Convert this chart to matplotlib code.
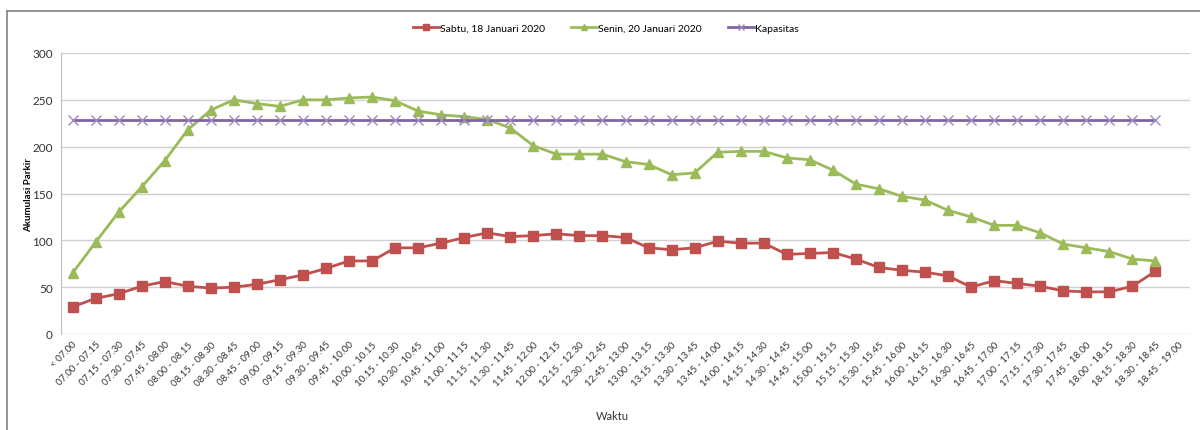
import numpy as np
import matplotlib.pyplot as plt
from matplotlib.lines import Line2D

# kategori waktu
waktu = ["< 07.00"]
for h in range(7, 19):
    for m in (0, 15, 30, 45):
        m2 = m + 15
        h2 = h + m2 // 60
        waktu.append("%02d.%02d - %02d.%02d" % (h, m, h2, m2 % 60))

sabtu = [29, 38, 43, 51, 56, 51, 49, 50, 53, 58, 63, 70, 78, 78, 92, 92,
         97, 103, 108, 104, 105, 107, 105, 105, 103, 92, 90, 92, 99, 97, 97, 85,
         86, 87, 80, 71, 68, 66, 62, 50, 57, 54, 51, 46, 45, 45, 51, 67]
senin = [65, 98, 130, 157, 185, 218, 239, 250, 246, 243, 250, 250, 252, 253, 249, 238,
         234, 232, 229, 220, 201, 192, 192, 192, 184, 181, 170, 172, 194, 195, 195, 188,
         186, 175, 160, 155, 147, 143, 132, 125, 116, 116, 108, 96, 92, 88, 80, 78]
kapasitas = [229] * 48

plt.rcParams['font.family'] = ['Lato', 'DejaVu Sans']

fig = plt.figure(figsize=(12, 4.31), dpi=100)
ax = fig.add_axes([61 / 1200, 1 - 335 / 431, 1129 / 1200, 281 / 431])

x = np.arange(len(sabtu))
ax.plot(x, sabtu, color='#C0504D', lw=2, marker='s', ms=6.5, label='Sabtu, 18 Januari 2020')
ax.plot(x, senin, color='#9BBB59', lw=2, marker='^', ms=7.5, label='Senin, 20 Januari 2020')
ax.plot(x, kapasitas, color='#8064A2', lw=2, marker='x', ms=7, mew=1, mec='#9c88bd', label='Kapasitas')

ax.set_xlim(-0.5, len(waktu) - 0.5)
ax.set_ylim(0, 300)
ax.set_yticks(range(0, 301, 50))
ax.set_xticks(np.arange(len(waktu)))
ax.set_xticklabels(waktu, rotation=45, ha='right', rotation_mode='anchor', fontsize=7)
ax.tick_params(axis='y', labelsize=8.5, length=0, pad=6, colors='#333333')
ax.tick_params(axis='x', length=0, pad=4, colors='#333333')
ax.grid(axis='y', color='#d0d0d0', lw=1)
ax.set_axisbelow(True)
for s in ['top', 'right', 'bottom']:
    ax.spines[s].set_visible(False)
ax.spines['left'].set_color('#c0c0c0')

ax.set_ylabel('Akumulasi Parkir', fontsize=7, fontweight='bold')
ax.yaxis.set_label_coords(-28 / 1129, 0.5)
ax.set_xlabel('Waktu', fontsize=8, color='#333333')
ax.xaxis.set_label_coords(0.488, -0.27)

fig.legend(loc='center', bbox_to_anchor=(0.505, 1 - 29 / 431), ncol=3, frameon=False,
           fontsize=7.5, handlelength=2.5, columnspacing=2.5, handletextpad=0.1,
           markerscale=0.65)

# bingkai chart
fig.add_artist(Line2D([7 / 1200, 7 / 1200], [0, 1 - 11.5 / 431], color='#808080', lw=1.2))
fig.add_artist(Line2D([7 / 1200, 1], [1 - 11.5 / 431, 1 - 11.5 / 431], color='#808080', lw=1.2))

plt.savefig('out.png', dpi=100)
